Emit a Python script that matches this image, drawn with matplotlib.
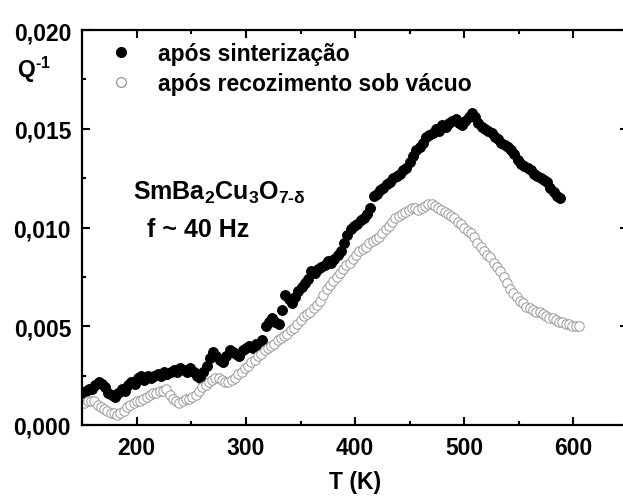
import matplotlib
matplotlib.use("Agg")
import matplotlib.pyplot as plt
from matplotlib.ticker import MultipleLocator, FuncFormatter
from matplotlib.lines import Line2D

plt.rcParams['font.family'] = ['Liberation Sans', 'DejaVu Sans']
plt.rcParams['font.weight'] = 'bold'
plt.rcParams['mathtext.fontset'] = 'custom'
plt.rcParams['mathtext.rm'] = 'Liberation Sans:bold'
plt.rcParams['mathtext.it'] = 'Liberation Sans:bold'
plt.rcParams['mathtext.bf'] = 'Liberation Sans:bold'
plt.rcParams['mathtext.default'] = 'rm'

# ---- data: after sintering (filled) ----
T_sint = [150, 153, 156, 159, 162, 165, 168, 171, 174, 177, 180, 183, 186, 189, 192, 195, 198,
          201, 204, 207, 210, 213, 216, 219, 222, 225, 228, 231, 234, 237, 240, 243, 246, 249,
          252, 255, 258, 261, 264, 267, 270, 273, 276, 279, 282, 285, 288, 291, 294, 297, 300,
          303, 306, 309, 312, 315, 318, 321, 324, 327, 330, 333, 336, 339, 342, 345, 348, 351,
          354, 357, 360, 363, 366, 369, 372, 375, 378, 381, 384, 387, 390, 393, 396, 399, 402,
          405, 408, 411, 414, 417, 420, 423, 426, 429, 432, 435, 438, 441, 444, 447, 450, 453,
          456, 459, 462, 465, 468, 471, 474, 477, 480, 483, 486, 489, 492, 495, 498, 501, 504,
          507, 510, 513, 516, 519, 522, 525, 528, 531, 534, 537, 540, 543, 546, 549, 552, 555,
          558, 561, 564, 567, 570, 573, 576, 579, 582, 585, 588]
Q_sint = [.0016, .0017, .0018, .0018, .0020, .0022, .0021, .0019, .0016, .0015, .0014, .0016,
          .0018, .0017, .0020, .0022, .0021, .0024, .0025, .0023, .0025, .0024, .0025, .0026,
          .0025, .0027, .0026, .0027, .0028, .0027, .0029, .0028, .0027, .0029, .0027, .0025,
          .0024, .0027, .0030, .0034, .0037, .0035, .0033, .0032, .0035, .0038, .0037, .0036,
          .0035, .0038, .0039, .0040, .0039, .0041, .0040, .0043, .0050, .0052, .0054, .0052,
          .0051, .0058, .0066, .0064, .0062, .0065, .0068, .0070, .0072, .0074, .0078, .0077,
          .0079, .0080, .0081, .0083, .0082, .0084, .0086, .0088, .0092, .0096, .0099, .0101,
          .0102, .0104, .0105, .0107, .0110, .0116, .0117, .0119, .0120, .0122, .0123, .0125,
          .0126, .0127, .0129, .0130, .0133, .0136, .0139, .0141, .0143, .0146, .0147, .0148,
          .0150, .0149, .0152, .0151, .0153, .0154, .0155, .0153, .0152, .0154, .0156, .0158,
          .0156, .0153, .0151, .0150, .0149, .0148, .0146, .0145, .0143, .0142, .0141, .0139,
          .0137, .0134, .0132, .0131, .0130, .0129, .0127, .0126, .0125, .0124, .0123, .0120,
          .0118, .0116, .0115]

# ---- data: after vacuum annealing (open) ----
T_vac = [152, 155, 158, 161, 164, 167, 170, 173, 176, 179, 182, 185, 188, 191, 194, 197, 200,
         203, 206, 209, 212, 215, 218, 221, 224, 227, 230, 233, 236, 239, 242, 245, 248, 251,
         254, 257, 260, 263, 266, 269, 272, 275, 278, 281, 284, 287, 290, 293, 296, 299, 302,
         305, 308, 311, 314, 317, 320, 323, 326, 329, 332, 335, 338, 341, 344, 347, 350, 353,
         356, 359, 362, 365, 368, 371, 374, 377, 380, 383, 386, 389, 392, 395, 398, 401, 404,
         407, 410, 413, 416, 419, 422, 425, 428, 431, 434, 437, 440, 443, 446, 449, 452, 455,
         458, 461, 464, 467, 470, 473, 476, 479, 482, 485, 488, 491, 494, 497, 500, 503, 506,
         509, 512, 515, 518, 521, 524, 527, 530, 533, 536, 539, 542, 545, 548, 551, 554, 557,
         560, 563, 566, 569, 572, 575, 578, 581, 584, 587, 590, 593, 596, 599, 602, 605]
Q_vac = [.0011, .0012, .0012, .0012, .0010, .0009, .0008, .0007, .0006, .0006, .0005, .0006,
         .0007, .0009, .0010, .0011, .0012, .0012, .0013, .0014, .0015, .0016, .0016, .0017,
         .0017, .0018, .0015, .0013, .0012, .0011, .0012, .0013, .0013, .0014, .0015, .0017,
         .0019, .0020, .0022, .0023, .0024, .0024, .0023, .0022, .0022, .0023, .0024, .0026,
         .0027, .0029, .0030, .0032, .0033, .0035, .0036, .0038, .0039, .0040, .0041, .0043,
         .0044, .0045, .0046, .0048, .0049, .0051, .0053, .0055, .0056, .0057, .0059, .0061,
         .0063, .0066, .0069, .0071, .0073, .0075, .0077, .0079, .0081, .0082, .0084, .0086,
         .0088, .0089, .0090, .0092, .0093, .0094, .0095, .0097, .0099, .0101, .0103, .0105,
         .0106, .0107, .0108, .0109, .0110, .0110, .0109, .0110, .0111, .0112, .0112, .0111,
         .0110, .0109, .0108, .0107, .0106, .0105, .0103, .0102, .0100, .0098, .0097, .0095,
         .0092, .0090, .0088, .0086, .0085, .0082, .0080, .0078, .0075, .0072, .0069, .0067,
         .0065, .0063, .0062, .0060, .0059, .0058, .0057, .0057, .0056, .0055, .0054, .0054,
         .0053, .0052, .0052, .0051, .0051, .0050, .0050, .0050]

labels = ['após sinterização', 'após recozimento sob vácuo']
x_ticks = [200, 300, 400, 500, 600]
y_ticks = [0.000, 0.005, 0.010, 0.015, 0.020]

fig = plt.figure(figsize=(6.23, 5.02), dpi=100)
ax = fig.add_axes([0.132, 0.1514, 0.876, 0.7868])

ax.plot(T_sint, Q_sint, 'o', ms=7.2, mfc='black', mec='black', mew=0.6, ls='none')
ax.plot(T_vac, Q_vac, 'o', ms=6.8, mfc='white', mec='#999999', mew=0.7, ls='none')

ax.set_xlim(150, 650)
ax.set_ylim(0, 0.020)
ax.set_xticks(x_ticks)
ax.set_yticks(y_ticks)
ax.xaxis.set_minor_locator(MultipleLocator(50))
ax.yaxis.set_minor_locator(MultipleLocator(0.0025))
ax.yaxis.set_major_formatter(FuncFormatter(lambda v, p: f"{v:.3f}".replace('.', ',')))
ax.xaxis.set_major_formatter(FuncFormatter(lambda v, p: f"{v:.0f}"))

for s in ax.spines.values():
    s.set_linewidth(1.6)
ax.tick_params(which='both', direction='in', top=True, right=True, width=1.5,
               labelsize=16.5, pad=8)
ax.tick_params(which='major', length=6)
ax.tick_params(which='minor', length=3)

ax.set_xlabel('T (K)', fontsize=16.5, fontweight='bold', labelpad=8)
fig.text(0.028, 0.845, r'Q$^{\text{-}1}$', fontsize=16.5, fontweight='bold', va='baseline')

handles = [Line2D([], [], marker='o', ls='none', ms=7, mfc='black', mec='black'),
           Line2D([], [], marker='o', ls='none', ms=7, mfc='white', mec='#8a8a8a', mew=0.8)]
ax.legend(handles, labels, loc='upper left', bbox_to_anchor=(110 / 623, 1 - 43 / 502),
          bbox_transform=fig.transFigure, frameon=False, fontsize=16.5, handlelength=1.0,
          handletextpad=1.1, labelspacing=0.3, borderpad=0, borderaxespad=0)

fig.text(133 / 623, 1 - 200 / 502, r'SmBa$_2$Cu$_3$O$_{7\text{-}\delta}$', fontsize=18,
         fontweight='bold', va='baseline')
fig.text(147 / 623, 1 - 237 / 502, 'f ~ 40 Hz', fontsize=18, fontweight='bold', va='baseline')

fig.savefig('out.png', dpi=100)
